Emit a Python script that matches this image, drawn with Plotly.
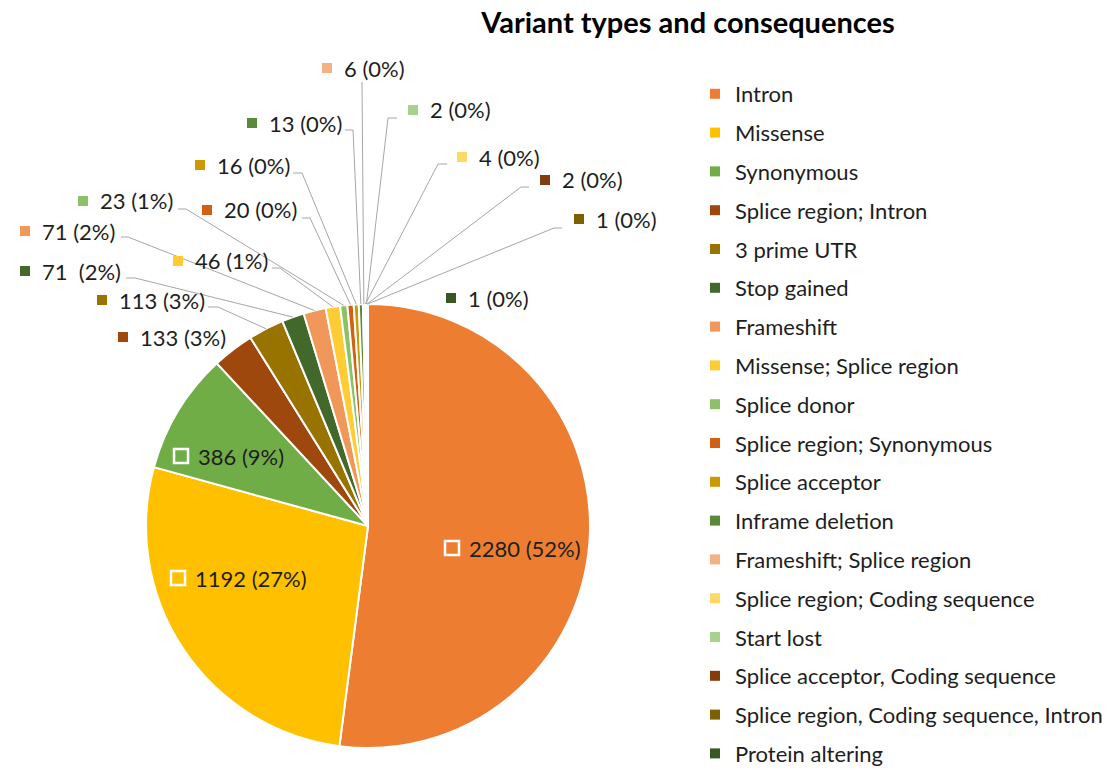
import math
import plotly.graph_objects as go

# ---------------- data ----------------
categories = [
    "Intron", "Missense", "Synonymous", "Splice region; Intron", "3 prime UTR",
    "Stop gained", "Frameshift", "Missense; Splice region", "Splice donor",
    "Splice region; Synonymous", "Splice acceptor", "Inframe deletion",
    "Frameshift; Splice region", "Splice region; Coding sequence", "Start lost",
    "Splice acceptor, Coding sequence", "Splice region, Coding sequence, Intron",
    "Protein altering",
]
counts = [2280, 1192, 386, 133, 113, 71, 71, 46, 23, 20, 16, 13, 6, 4, 2, 2, 1, 1]
data_labels = [
    "2280 (52%)", "1192 (27%)", "386 (9%)", "133 (3%)", "113 (3%)", "71  (2%)",
    "71 (2%)", "46 (1%)", "23 (1%)", "20 (0%)", "16 (0%)", "13 (0%)", "6 (0%)",
    "4 (0%)", "2 (0%)", "2 (0%)", "1 (0%)", "1 (0%)",
]
colors = [
    "#ED7D31", "#FFC000", "#70AD47", "#9E480E", "#997300", "#43682B",
    "#F1975A", "#FFCD33", "#8CC168", "#D26012", "#CC9A00", "#5A8A39",
    "#F4B183", "#FFD966", "#A9D18E", "#843C0C", "#7F6000", "#385723",
]
title_text = "Variant types and consequences"

# ---------------- layout (pixels of the final page) ----------------
W, H = 1115, 770
OFF = 8  # default body margin of the page
CX, CY, R = 368, 526, 222
FONT = "Lato, 'Open Sans', sans-serif"
TXT = "#1e1e1e"
inside = [True, True, True] + [False] * 15
# square centre of each data label (x, y)
label_xy = [
    (452, 548), (178, 578), (181, 456), (123, 337), (102, 300), (25, 271),
    (25, 231), (178, 261), (83, 201), (207, 210), (200, 165), (252, 123),
    (327, 68), (462, 157), (413, 110), (545, 180), (579, 219), (451, 298),
]
# leader line: (start x, elbow x, y) or None
leaders = [
    None, None, None, None, (208, 218, 307), (126, 135, 278),
    (121, 128, 237), (272, 280, 268), (178, 186, 209), (302, 310, 218),
    (293, 302, 173), (345, 353, 130), (362, 362, 82), (447, 438, 164),
    (397, 388, 118), (529, 521, 187), (562, 554, 228), None,
]


def px(x):
    return (x - OFF) / W


def py(y):
    return 1 - (y - OFF) / H


fig = go.Figure()
fig.add_trace(go.Pie(
    values=counts, labels=categories, sort=False, direction="clockwise",
    rotation=0, textinfo="none", showlegend=False, hoverinfo="label+value",
    marker=dict(colors=colors, line=dict(color="white", width=2)),
    domain=dict(x=[px(CX - R), px(CX + R)], y=[py(CY + R), py(CY - R)]),
))

# legend entries
for i, (cat, col) in enumerate(zip(categories, colors)):
    fig.add_trace(go.Scatter(
        x=[None], y=[None], mode="markers", name=cat, legendgroup=f"g{i}",
        marker=dict(symbol="square", size=10, color=col),
    ))

# data labels and leader lines computed from slice angles
total = sum(counts)
shapes, annotations = [], []
cum = 0
for i, v in enumerate(counts):
    mid = (cum + v / 2) / total
    cum += v
    th = 2 * math.pi * mid
    ex, ey = CX + R * math.sin(th), CY - R * math.cos(th)
    sx, sy = label_xy[i]
    if leaders[i] is not None:
        x0, x1, yl = leaders[i]
        shapes.append(dict(
            type="path", xref="paper", yref="paper",
            path=f"M {px(x0)} {py(yl)} L {px(x1)} {py(yl)} L {px(ex)} {py(ey)}",
            line=dict(color="#A6A6A6", width=1),
        ))
    if inside[i]:
        s = 7
        shapes.append(dict(
            type="rect", xref="paper", yref="paper",
            x0=px(sx - s), x1=px(sx + s), y0=py(sy + s), y1=py(sy - s),
            line=dict(color="white", width=2.5), fillcolor="rgba(0,0,0,0)",
        ))
    else:
        s = 5
        shapes.append(dict(
            type="rect", xref="paper", yref="paper",
            x0=px(sx - s), x1=px(sx + s), y0=py(sy + s), y1=py(sy - s),
            line=dict(width=0), fillcolor=colors[i],
        ))
    annotations.append(dict(
        x=px(sx + 15), y=py(sy), xref="paper", yref="paper",
        xanchor="left", yanchor="middle", showarrow=False,
        text=data_labels[i], font=dict(family=FONT, size=22, color=TXT),
    ))

fig.update_layout(
    width=W, height=H,
    margin=dict(l=0, r=0, t=0, b=0),
    paper_bgcolor="white", plot_bgcolor="white",
    title=dict(text=f"<b>{title_text}</b>", x=px(688), xanchor="center",
               y=py(23), yanchor="middle", yref="container",
               font=dict(family=FONT, size=29, color="#000")),
    xaxis=dict(visible=False), yaxis=dict(visible=False),
    showlegend=True,
    legend=dict(x=px(695), xanchor="left", y=py(73), yanchor="top",
                traceorder="grouped", tracegroupgap=7.2,
                font=dict(family=FONT, size=22, color=TXT),
                bgcolor="rgba(0,0,0,0)"),
    shapes=shapes, annotations=annotations,
)

fig.write_html("out.html")
